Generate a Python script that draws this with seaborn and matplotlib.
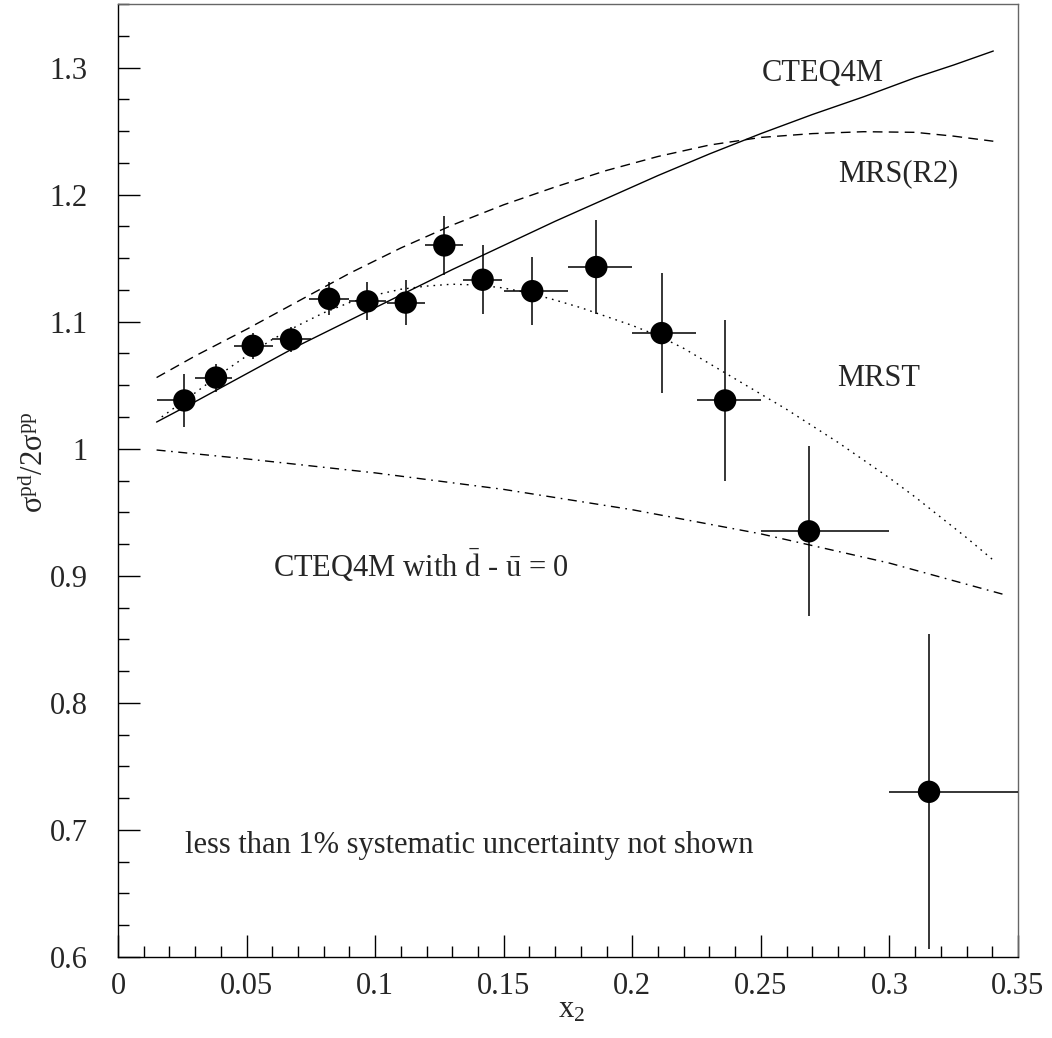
import matplotlib
matplotlib.use("Agg")
import matplotlib.pyplot as plt
from matplotlib.ticker import MultipleLocator, FuncFormatter
import seaborn as sns
import pandas as pd
import numpy as np

# ---------------- data ----------------
x2 = [0.0258, 0.0381, 0.0524, 0.0673, 0.0821, 0.0970, 0.1119, 0.1269,
      0.1418, 0.1611, 0.1860, 0.2114, 0.2361, 0.2687, 0.3154]
ratio = [1.038, 1.056, 1.081, 1.086, 1.118, 1.116, 1.115, 1.160,
         1.133, 1.124, 1.143, 1.091, 1.038, 0.935, 0.730]
ratio_err = [0.021, 0.011, 0.010, 0.010, 0.013, 0.015, 0.018, 0.023,
             0.027, 0.027, 0.037, 0.047, 0.063, 0.067, 0.124]
x_err_lo = [0.0108, 0.0082, 0.0073, 0.0073, 0.0079, 0.0070, 0.0072, 0.0075,
            0.0075, 0.0111, 0.0111, 0.0114, 0.0111, 0.0187, 0.0156]
x_err_hi = [0.0042, 0.0061, 0.0077, 0.0077, 0.0079, 0.0072, 0.0074, 0.0074,
            0.0075, 0.0139, 0.0140, 0.0134, 0.0139, 0.0311, 0.0346]

cteq_x = [0.015, 0.03, 0.05, 0.07, 0.09, 0.11, 0.13, 0.15, 0.17, 0.19,
          0.21, 0.23, 0.25, 0.27, 0.29, 0.31, 0.325, 0.3404]
cteq_y = [1.021, 1.037, 1.059, 1.081, 1.101, 1.121, 1.141, 1.160, 1.179, 1.197,
          1.215, 1.232, 1.248, 1.263, 1.277, 1.292, 1.302, 1.313]

mrs_x = [0.015, 0.03, 0.05, 0.07, 0.09, 0.11, 0.13, 0.15, 0.17, 0.19,
         0.21, 0.23, 0.25, 0.27, 0.29, 0.31, 0.325, 0.3404]
mrs_y = [1.056, 1.073, 1.094, 1.116, 1.138, 1.158, 1.176, 1.192, 1.206, 1.219,
         1.230, 1.239, 1.245, 1.248, 1.2495, 1.249, 1.246, 1.242]

mrst_x = [0.017, 0.03, 0.04, 0.05, 0.06, 0.07, 0.08, 0.09, 0.10, 0.11, 0.12,
          0.13, 0.14, 0.15, 0.16, 0.17, 0.18, 0.19, 0.20, 0.21, 0.22, 0.23,
          0.24, 0.25, 0.26, 0.27, 0.28, 0.29, 0.30, 0.31, 0.32, 0.33, 0.34]
mrst_y = [1.025, 1.044, 1.059, 1.073, 1.086, 1.097, 1.107, 1.115, 1.121, 1.1255, 1.128,
          1.1295, 1.1288, 1.1265, 1.1225, 1.117, 1.111, 1.104, 1.097, 1.089, 1.079, 1.067,
          1.055, 1.043, 1.031, 1.018, 1.005, 0.991, 0.977, 0.962, 0.946, 0.930, 0.913]

sym_x = [0.015, 0.05, 0.10, 0.15, 0.20, 0.25, 0.30, 0.345]
sym_y = [0.999, 0.992, 0.981, 0.968, 0.952, 0.933, 0.910, 0.885]

x_ticks = [0, 0.05, 0.1, 0.15, 0.2, 0.25, 0.3, 0.35]
y_ticks = [0.6, 0.7, 0.8, 0.9, 1.0, 1.1, 1.2, 1.3]

# ---------------- style ----------------
sns.set_style("ticks")
plt.rcParams['font.family'] = ['Liberation Serif', 'DejaVu Serif']
plt.rcParams['mathtext.fontset'] = 'custom'
plt.rcParams['mathtext.rm'] = 'Liberation Serif'
plt.rcParams['mathtext.it'] = 'Liberation Serif:italic'
plt.rcParams['mathtext.bf'] = 'Liberation Serif:bold'

W, H = 1052, 1038
fig = plt.figure(figsize=(W / 100, H / 100), dpi=100)
ax = fig.add_axes([118 / W, 1 - 957 / H, 900 / W, 953 / H])

FS = 22

# theory curves
sns.lineplot(x=cteq_x, y=cteq_y, ax=ax, color='black', lw=1.0, sort=False)
l_mrs = sns.lineplot(x=mrs_x, y=mrs_y, ax=ax, color='black', lw=1.0, sort=False).lines[-1]
l_mrs.set_dashes((7, 4.5))
l_mrst = sns.lineplot(x=mrst_x, y=mrst_y, ax=ax, color='black', lw=1.0, sort=False).lines[-1]
l_mrst.set_dashes((1.2, 3.6))
l_sym = sns.lineplot(x=sym_x, y=sym_y, ax=ax, color='black', lw=1.0, sort=False).lines[-1]
l_sym.set_dashes((6.5, 4, 1.2, 4))

# data with error bars
ax.errorbar(x2, ratio, yerr=ratio_err, xerr=[x_err_lo, x_err_hi], fmt='none',
            ecolor='black', elinewidth=1.1, capsize=0, zorder=3)
df = pd.DataFrame({'x2': x2, 'ratio': ratio})
sns.scatterplot(data=df, x='x2', y='ratio', ax=ax, s=260, color='black',
                edgecolor='none', zorder=4, legend=False)

# axes
ax.set_xlim(0, 0.35)
ax.set_ylim(0.6, 1.35)
ax.set_xticks(x_ticks)
ax.set_yticks(y_ticks)
ax.xaxis.set_minor_locator(MultipleLocator(0.01))
ax.yaxis.set_minor_locator(MultipleLocator(0.025))
fmt = FuncFormatter(lambda v, p: ('%g' % round(v, 3)))
ax.xaxis.set_major_formatter(fmt)
ax.yaxis.set_major_formatter(fmt)
ax.tick_params(which='both', direction='in', top=False, right=False,
               width=1.0, color='black', labelsize=FS)
ax.tick_params(which='major', length=15.8)
ax.tick_params(which='minor', length=8.2)
ax.tick_params(axis='x', which='major', pad=11)
ax.tick_params(axis='y', which='major', pad=22)
ax.set_xlabel('')
ax.set_ylabel('')
for s in ['left', 'bottom']:
    ax.spines[s].set_color('black')
    ax.spines[s].set_linewidth(1.0)
for s in ['top', 'right']:
    ax.spines[s].set_color('#666666')
    ax.spines[s].set_linewidth(1.0)

# annotations
ax.text(0.2504, 1.2895, 'CTEQ4M', fontsize=FS, ha='left', va='baseline')
ax.text(0.2800, 1.2108, 'MRS(R2)', fontsize=FS, ha='left', va='baseline')
ax.text(0.2796, 1.0497, 'MRST', fontsize=FS, ha='left', va='baseline')
ax.text(0.0603, 0.8987, r'CTEQ4M with $\mathrm{\bar{d}}$ - $\mathrm{\bar{u}}$ = 0',
        fontsize=FS, ha='left', va='baseline')
ax.text(0.0261, 0.6818, 'less than 1% systematic uncertainty not shown',
        fontsize=FS, ha='left', va='baseline')

fig.text(35 / W, 1 - 462 / H, r'$\mathrm{σ^{pd}/2σ^{pp}}$', fontsize=FS,
         rotation=90, ha='center', va='center')
fig.text(572 / W, 1 - 1010 / H, r'$\mathrm{x_2}$', fontsize=FS,
         ha='center', va='center')

fig.savefig('out.png', dpi=100, facecolor='white')
